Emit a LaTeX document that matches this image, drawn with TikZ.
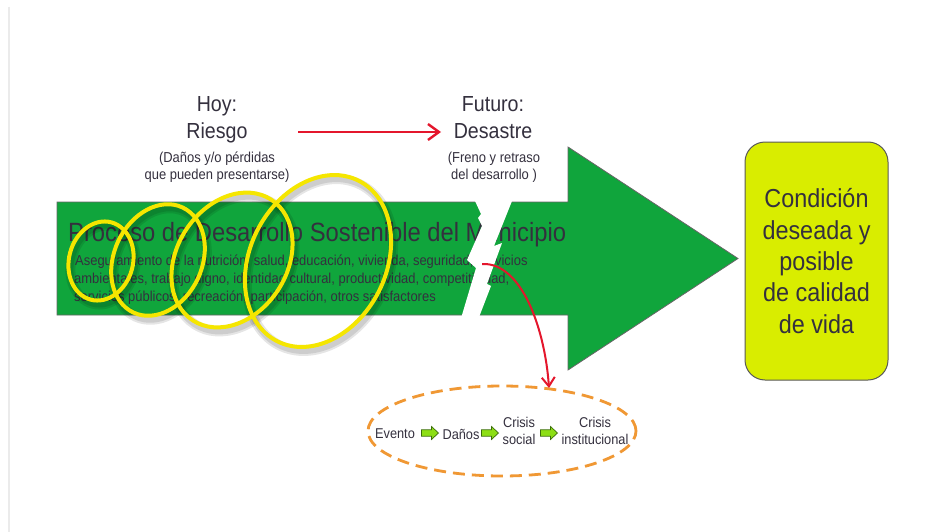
\documentclass[tikz,border=0pt]{standalone}
\usepackage{fontspec}
\setmainfont{Liberation Sans}[FakeStretch=0.9]
\usetikzlibrary{shapes.geometric,arrows.meta}
\definecolor{bodygreen}{RGB}{16,165,60}
\definecolor{ylw}{RGB}{245,230,0}
\definecolor{boxfill}{RGB}{217,237,0}
\definecolor{txt}{RGB}{52,48,62}
\definecolor{redc}{RGB}{228,22,44}
\definecolor{orng}{RGB}{240,152,52}
\definecolor{lgreen}{RGB}{140,222,20}
\definecolor{dgreen}{RGB}{60,110,10}
\begin{document}
\begin{tikzpicture}[x=1pt,y=-1pt,
  txtnode/.style={inner sep=0pt,text=txt},
  big/.style={txtnode,font=\fontsize{21.8}{26}\selectfont},
  small/.style={txtnode,font=\fontsize{14.4}{17}\selectfont},
  ring/.style={draw=ylw,line width=4pt},
  ringshadow/.style={draw=black,line width=#1,opacity=0.10},
  redline/.style={draw=redc,line width=2.4pt},
  chain/.style={txtnode,font=\fontsize{14.2}{17}\selectfont,align=center},
  miniarrow/.pic={\draw[fill=lgreen,draw=dgreen,line width=0.7pt,line join=miter]
    (-8.5,-3.2) -- (1.5,-3.2) -- (1.5,-6.5) -- (8.5,0) -- (1.5,6.5) -- (1.5,3.2) -- (-8.5,3.2) -- cycle;}]
\useasboundingbox (0,0) rectangle (936,532);
\fill[white] (0,0) rectangle (936,532);
\draw[black!8,line width=1.5pt] (9,7) -- (9,532);

% big green arrow
\draw[fill=bodygreen,draw=black!60,line width=0.8pt]
  (57,202) -- (568,202) -- (568,147) -- (738,258.5) -- (568,370) -- (568,315) -- (57,315) -- cycle;

% text inside the arrow
\node[txtnode,anchor=base west,font=\fontsize{26.4}{30}\selectfont] (title) at (68,241)
  {Proceso de Desarrollo Sostenible del Municipio};
\node[small,anchor=base west] (sub1) at (75,265)
  {Aseguramiento de la nutrición, salud, educación, vivienda, seguridad, servicios};
\node[small,anchor=base west] (sub2) at (74,283)
  {ambientales, trabajo digno, identidad cultural, productividad, competitividad,};
\node[small,anchor=base west] (sub3) at (74,301)
  {servicios públicos, recreación, participación, otros satisfactores};

% shadows of the rings
\foreach \cx/\cy/\b/\a/\t in {101/261/32/40/15,158/260/44/58/25,232/260/55/72/33,318/261/68/90/27}{
  \draw[ringshadow=10pt,rotate around={-\t:(\cx+2,\cy+4)}] (\cx+2,\cy+4) ellipse [x radius=\b,y radius=\a];
  \draw[ringshadow=6pt,rotate around={-\t:(\cx+2,\cy+4)}] (\cx+2,\cy+4) ellipse [x radius=\b,y radius=\a];
}
% rings
\foreach \cx/\cy/\b/\a/\t in {101/261/32/40/15,158/260/44/58/25,232/260/55/72/33,318/261/68/90/27}{
  \draw[ring,rotate around={-\t:(\cx,\cy)}] (\cx,\cy) ellipse [x radius=\b,y radius=\a];
}

% crack
\fill[white] (475,201) -- (481,214) -- (478,218) -- (482,226) -- (467,260) -- (476,268) -- (459,325)
  -- (476,325) -- (491,286) -- (487,284) -- (502,243) -- (494,246) -- (512,201) -- cycle;

% top labels
\node[big,anchor=base] (hoy) at (217,111) {Hoy:};
\node[big,anchor=base] (riesgo) at (217,139) {Riesgo};
\node[small,anchor=base] (hoy1) at (217,162) {(Daños y/o pérdidas};
\node[small,anchor=base] (hoy2) at (217,179) {que pueden presentarse)};
\node[big,anchor=base] (fut) at (493,111) {Futuro:};
\node[big,anchor=base] (des) at (493,139) {Desastre};
\node[small,anchor=base] (fut1) at (494,162) {(Freno y retraso};
\node[small,anchor=base] (fut2) at (494,179) {del desarrollo )};

\coordinate (rs) at (298,132);
\coordinate (re) at (441,132);
\draw[redline,-{Straight Barb[length=11pt,width=16pt]}] (rs) -- (re);

% goal box
\node[draw=black!65,fill=boxfill,rounded corners=20pt,minimum width=143pt,minimum height=238pt,
  line width=1pt,inner sep=0pt,text=txt,align=center,font=\fontsize{26}{31.3}\selectfont]
  (goal) at (816.5,261) {Condición\\deseada y\\posible\\de calidad\\de vida};

% dashed ellipse with chain
\node[ellipse,draw=orng,dash pattern=on 12pt off 7pt,line width=2.8pt,
  minimum width=268pt,minimum height=90pt,inner sep=0pt] (ell) at (502,431) {};
\node[chain] (evento) at (395,434) {Evento};
\pic at (430,433) {miniarrow};
\node[chain] (danos) at (461,434) {Daños};
\pic at (490,433) {miniarrow};
\node[chain] (social) at (519,431) {Crisis\\social};
\pic at (549,433) {miniarrow};
\node[chain] (inst) at (595,431) {Crisis\\institucional};

% red curved arrow from crack down to ellipse
\coordinate (cs) at (482,264);
\coordinate (ce) at (549,388);
\draw[draw=redc,line width=2pt,-{Straight Barb[length=9pt,width=13pt]}]
  (cs) .. controls (522,262) and (545,330) .. (ce);
\end{tikzpicture}
\end{document}
